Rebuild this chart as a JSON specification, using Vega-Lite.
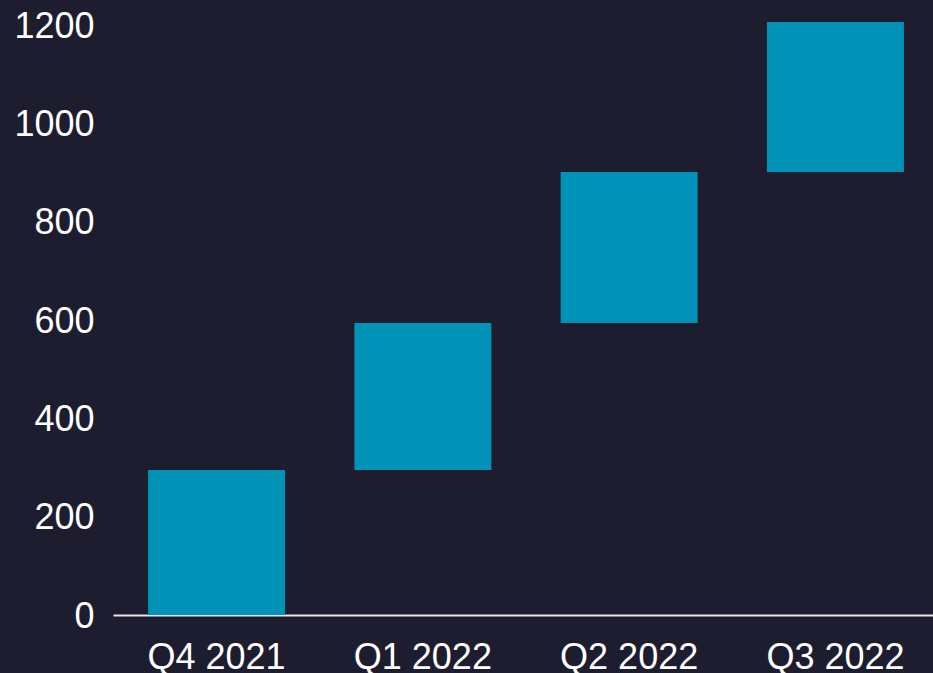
{
  "$schema": "https://vega.github.io/schema/vega-lite/v6.json",
  "autosize": {"type": "none"},
  "padding": {"left": 113, "top": 25, "right": 0, "bottom": 58},
  "width": 826,
  "height": 590,
  "background": "#1e1d30",
  "config": {
    "view": {"stroke": null},
    "font": "Liberation Sans"
  },
  "data": {
    "values": [
      {"quarter": "Q4 2021", "start": 0, "end": 295},
      {"quarter": "Q1 2022", "start": 295, "end": 594},
      {"quarter": "Q2 2022", "start": 594, "end": 901},
      {"quarter": "Q3 2022", "start": 901, "end": 1206}
    ]
  },
  "mark": {"type": "bar", "color": "#0093b7", "clip": false},
  "encoding": {
    "x": {
      "field": "quarter",
      "type": "nominal",
      "sort": null,
      "scale": {"paddingInner": 0.336, "paddingOuter": 0.17},
      "axis": {
        "title": null,
        "labelAngle": 0,
        "labelFontSize": 36,
        "labelColor": "#ffffff",
        "labelPadding": 25,
        "ticks": false,
        "domain": true,
        "domainColor": "#e6e6e6",
        "domainWidth": 2,
        "grid": false
      }
    },
    "y": {
      "field": "start",
      "type": "quantitative",
      "scale": {"domain": [0, 1200], "nice": false},
      "axis": {
        "title": null,
        "format": "d",
        "values": [0, 200, 400, 600, 800, 1000, 1200],
        "labelFontSize": 36,
        "labelColor": "#ffffff",
        "labelPadding": 19,
        "labelOffset": 1,
        "ticks": false,
        "domain": false,
        "grid": false
      }
    },
    "y2": {"field": "end"}
  }
}
